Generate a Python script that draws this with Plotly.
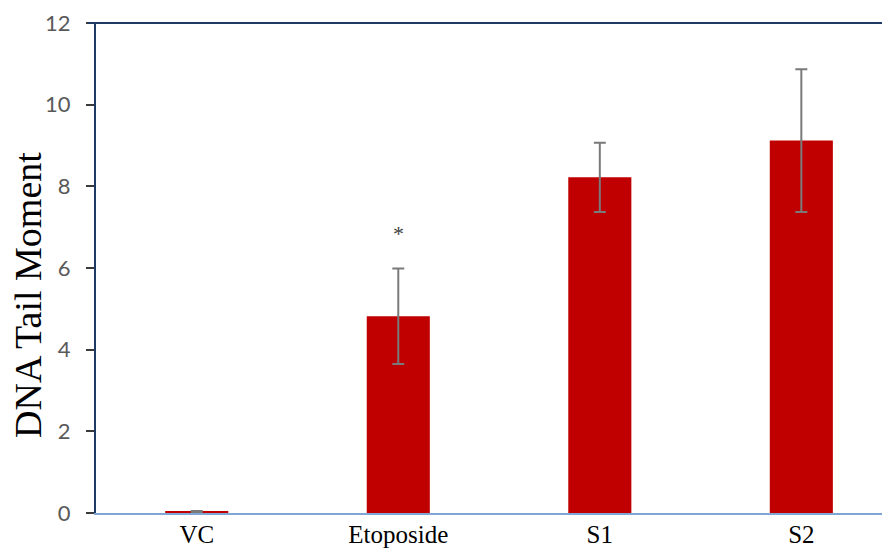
import plotly.graph_objects as go

categories = ["VC", "Etoposide", "S1", "S2"]
means = [0.03, 4.82, 8.22, 9.12]
errors = [0.02, 1.17, 0.85, 1.75]
y_ticks = [0, 2, 4, 6, 8, 10, 12]
star_label = "*"
star_y = 6.85

fig = go.Figure()
fig.add_trace(go.Bar(
    x=categories, y=means, width=0.313,
    marker=dict(color="#C00000", line=dict(width=0)),
    error_y=dict(type="data", array=errors, visible=True, color="#7a7a7a",
                 thickness=2, width=6),
))

fig.add_annotation(x="Etoposide", y=star_y, text=star_label, showarrow=False,
                   font=dict(family="Liberation Serif", size=22, color="#404040"))

fig.add_annotation(xref="paper", yref="paper", x=(20 - 88) / 794, y=(505 - 287) / 490,
                   xanchor="center", yanchor="middle",
                   text="DNA Tail Moment", textangle=-90, showarrow=False,
                   font=dict(family="Liberation Serif", size=38, color="#000000"))

fig.add_shape(type="line", xref="paper", yref="paper", x0=-0.01, x1=1, y0=1, y1=1,
              line=dict(color="#1f3b63", width=2))

fig.update_layout(
    width=882, height=543,
    margin=dict(l=88, r=0, t=15, b=38),
    plot_bgcolor="white", paper_bgcolor="white",
    showlegend=False,
    xaxis=dict(range=[-0.5, 3.44], showgrid=False, showline=True,
               linecolor="#7fa6d4", linewidth=2, ticks="",
               ticklabelstandoff=-2,
               tickfont=dict(family="Liberation Serif", size=25, color="#000000"),
               zeroline=False),
    yaxis=dict(range=[0, 12], tickvals=y_ticks, showgrid=False, showline=True,
               linecolor="#1f3b63", linewidth=2, ticks="outside", ticklen=8,
               tickcolor="#3a3a3a", tickwidth=2,
               ticklabelstandoff=11,
               tickfont=dict(family="Lato", size=22, color="#595959"),
               zeroline=False),
)

fig.write_html("out.html")
